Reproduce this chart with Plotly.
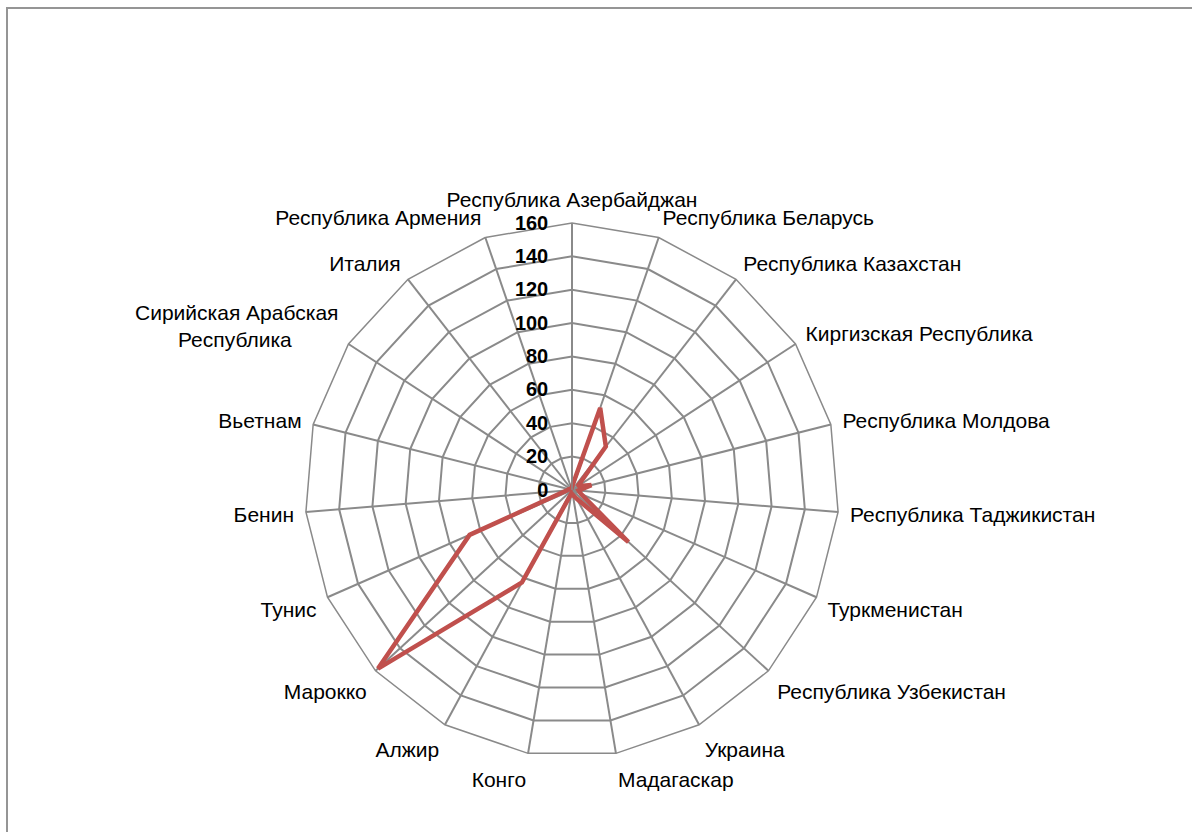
import plotly.graph_objects as go

NB = "\u00a0"
categories = [
    "Республика Азербайджан", "Республика Беларусь", "Республика Казахстан",
    "Киргизская Республика", "Республика Молдова", "Республика Таджикистан",
    "Туркменистан", "Республика Узбекистан", "Украина", "Мадагаскар",
    "Конго", "Алжир", "Марокко", "Тунис", "Бенин", "Вьетнам",
    "Сирийская Арабская<br>Республика" + NB * 8, "Италия", "Республика Армения",
]
values = [2, 52, 33, 4, 12, 4, 6, 46, 6, 3, 2, 63, 158, 67, 3, 2, 1, 1, 1]
radial_ticks = [0, 20, 40, 60, 80, 100, 120, 140, 160]

W, H = 1192, 832
cx, cy, R = 572, 490, 267

fig = go.Figure()
fig.add_trace(go.Scatterpolar(
    r=values + values[:1],
    theta=categories + categories[:1],
    mode="lines",
    line=dict(color="#C0504D", width=4.5),
    showlegend=False,
))

fig.update_layout(
    width=W, height=H,
    margin=dict(l=0, r=0, t=0, b=0),
    paper_bgcolor="white",
    font=dict(family="Liberation Sans, Arial, sans-serif", size=21, color="black"),
    polar=dict(
        domain=dict(x=[(cx - R) / W, (cx + R) / W], y=[(H - cy - R) / H, (H - cy + R) / H]),
        bgcolor="white",
        gridshape="linear",
        angularaxis=dict(
            rotation=90, direction="clockwise",
            showgrid=True, gridcolor="#8a8a8a", gridwidth=1.5,
            showline=True, linecolor="#8a8a8a", linewidth=1.5,
            ticks="outside", ticklen=7, tickcolor="rgba(0,0,0,0)",
            tickfont=dict(size=21, color="black"),
        ),
        radialaxis=dict(
            range=[0, 160], tickvals=radial_ticks, ticktext=[str(v) for v in radial_ticks],
            angle=90, side="counterclockwise",
            showgrid=True, gridcolor="#8a8a8a", gridwidth=1.5,
            showline=True, linecolor="#8a8a8a", linewidth=1.5,
            ticks="outside", ticklen=16, tickcolor="rgba(0,0,0,0)",
            tickfont=dict(size=20, color="black", weight="bold"),
            tickangle=90,
        ),
    ),
    shapes=[dict(
        type="rect", xref="paper", yref="paper",
        x0=7 / W, x1=1.02, y0=-0.02, y1=1 - 8 / H,
        line=dict(color="#959595", width=2),
    )],
)

fig.write_html(
    "out.html",
    config={"displayModeBar": False},
    post_script="document.body.style.margin='0';document.body.style.overflow='hidden';",
)
